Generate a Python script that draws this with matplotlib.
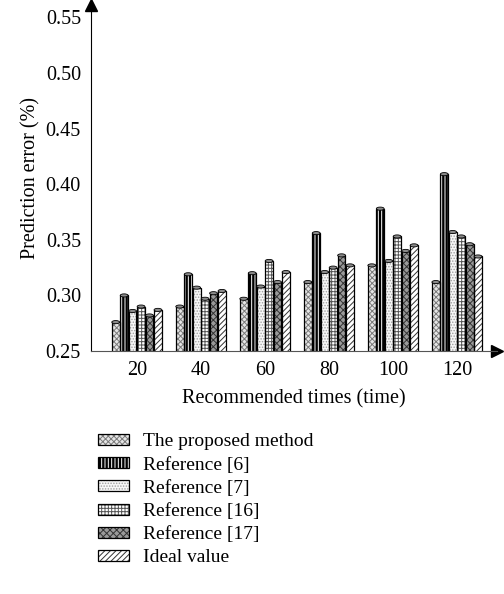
import matplotlib.pyplot as plt
import numpy as np
from matplotlib.patches import Ellipse

plt.rcParams['font.family'] = ['Liberation Serif', 'DejaVu Serif']
plt.rcParams['hatch.linewidth'] = 0.7

times = ['20', '40', '60', '80', '100', '120']
proposed = [0.276, 0.290, 0.297, 0.312, 0.327, 0.312]
ref6 = [0.300, 0.319, 0.320, 0.356, 0.378, 0.409]
ref7 = [0.286, 0.307, 0.308, 0.321, 0.331, 0.357]
ref16 = [0.290, 0.297, 0.331, 0.325, 0.353, 0.353]
ref17 = [0.282, 0.302, 0.312, 0.336, 0.340, 0.346]
ideal = [0.287, 0.304, 0.321, 0.327, 0.345, 0.335]

labels = ['The proposed method', 'Reference [6]', 'Reference [7]',
          'Reference [16]', 'Reference [17]', 'Ideal value']
series = [proposed, ref6, ref7, ref16, ref17, ideal]
# face colour, hatch colour, hatch pattern
faces = ['#e6e6e6', 'black', '#f7f7f7', 'white', '#9a9a9a', 'white']
hcols = ['#7a7a7a', 'white', '#a0a0a0', '#555555', '#333333', '#333333']
hatches = ['xxxxxx', '|||||', '......', '+++++', 'xxxxx', '//////']


def main():
    fig = plt.figure(figsize=(5.04, 5.94), dpi=100)
    ax = fig.add_axes([0.18, 0.409, 0.806, 0.5825])
    x = np.arange(len(times))
    step = 0.132
    w = 0.122
    handles = []
    for i, vals in enumerate(series):
        pos = x + (i - 2.5) * step
        fill = ax.bar(pos, vals, w, color=faces[i], edgecolor=hcols[i],
                      hatch=hatches[i], linewidth=0, zorder=2)
        edge = ax.bar(pos, vals, w, fill=False, edgecolor='black',
                      linewidth=0.9, zorder=2.5)
        handles.append((fill, edge))
        for b in edge:
            cx = b.get_x() + b.get_width() / 2
            ax.add_patch(Ellipse((cx, b.get_height()), b.get_width(), 0.0028,
                                 facecolor='#8a8a8a', edgecolor='black',
                                 linewidth=0.6, zorder=3))
    ax.set_xlim(-0.72, 5.625)
    ax.set_ylim(0.25, 0.561)
    ax.set_yticks([0.25, 0.30, 0.35, 0.40, 0.45, 0.50, 0.55])
    ax.set_yticklabels(['%.2f' % v for v in ax.get_yticks()])
    ax.set_xticks(x)
    ax.set_xticklabels(times)
    ax.tick_params(length=0, labelsize=14.5, pad=7)
    ax.spines['top'].set_visible(False)
    ax.spines['right'].set_visible(False)
    ax.spines['bottom'].set_color('#555555')
    ax.plot(1, 0, '>', color='black', markersize=8, transform=ax.transAxes, clip_on=False)
    ax.plot(0, 1, '^', color='black', markersize=8, transform=ax.transAxes, clip_on=False)
    ax.set_ylabel('Prediction error (%)', fontsize=14.5, labelpad=4)
    ax.set_xlabel('Recommended times (time)', fontsize=14.5, labelpad=7)
    fig.legend(handles=handles, labels=labels, loc='upper left',
               bbox_to_anchor=(0.16, 0.3), frameon=False, fontsize=14,
               handlelength=1.6, handleheight=0.5, labelspacing=0.32,
               handletextpad=0.7)
    fig.savefig('out.png', dpi=100)


if __name__ == "__main__":
    main()
